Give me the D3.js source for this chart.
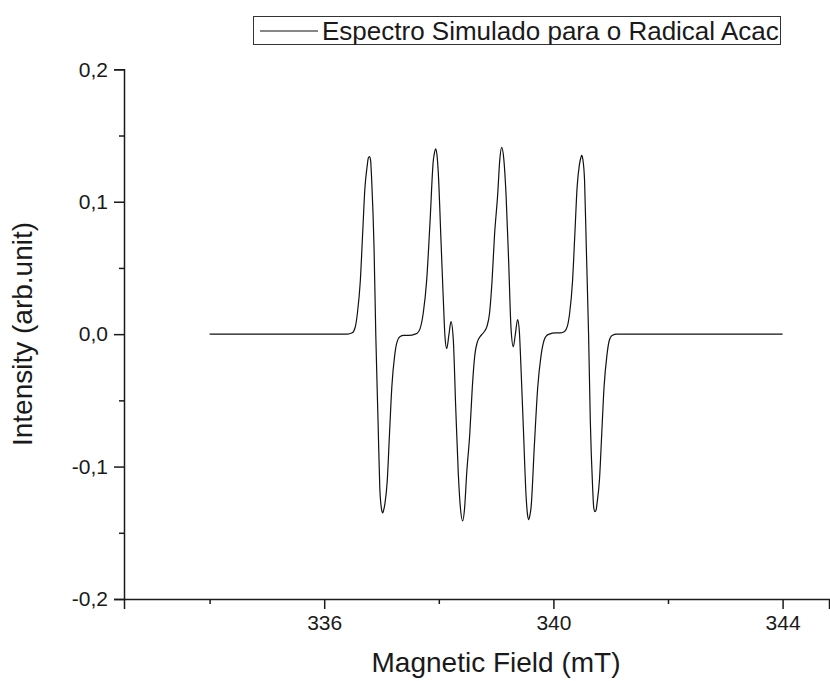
<!DOCTYPE html>
<html>
<head>
<meta charset="utf-8">
<script src="https://cdn.jsdelivr.net/npm/d3@7"></script>
<style>
  html, body { margin: 0; padding: 0; background: #fff; }
  svg { display: block; }
  text { font-family: "Liberation Sans", Arial, sans-serif; fill: #1a1a1a; }
</style>
</head>
<body>
<svg id="chart" width="830" height="681"></svg>
<script>
// ---- data ----
const fieldMT = [
  334.00, 334.50, 335.00, 335.50, 336.00, 336.40,
  336.49, 336.54, 336.58, 336.63, 336.67, 336.71, 336.75, 336.77, 336.79, 336.81, 336.83, 336.87, 336.90,
  336.94, 336.97, 337.00, 337.02, 337.03, 337.06, 337.10, 337.14, 337.18, 337.23, 337.27, 337.32, 337.39, 337.48,
  337.585, 337.63, 337.672, 337.729, 337.789, 337.846, 337.904, 337.925, 337.946, 337.969, 337.991, 338.038,
  338.079, 338.108, 338.138, 338.178, 338.213, 338.253, 338.295, 338.340, 338.379, 338.417, 338.449, 338.487,
  338.541, 338.585, 338.628, 338.672, 338.719, 338.757,
  338.795, 338.842, 338.886, 338.929, 338.973, 339.027, 339.065, 339.097, 339.135, 339.174, 339.219, 339.261,
  339.301, 339.336, 339.376, 339.406, 339.435, 339.476, 339.523, 339.545, 339.568, 339.589, 339.610, 339.668,
  339.725, 339.785, 339.842, 339.884, 339.929,
  340.034, 340.124, 340.194, 340.244, 340.284, 340.334, 340.374, 340.414, 340.454, 340.484, 340.494, 340.514,
  340.544, 340.574, 340.614, 340.644, 340.684, 340.704, 340.724, 340.744, 340.764, 340.804, 340.844, 340.884,
  340.934, 340.974, 341.024, 341.11, 341.50, 342.00, 342.50, 343.00, 343.50, 344.00
];
const intensity = [
  0, 0, 0, 0, 0, 0,
  0.001, 0.005, 0.016, 0.040, 0.075, 0.110, 0.127, 0.133, 0.134, 0.131, 0.115, 0.065, 0.000,
  -0.066, -0.116, -0.132, -0.135, -0.134, -0.128, -0.111, -0.075, -0.040, -0.016, -0.006, -0.002, -0.001, -0.001,
  0.000, 0.001, 0.004, 0.016, 0.041, 0.084, 0.131, 0.137, 0.140, 0.135, 0.122, 0.071,
  0.026, -0.002, -0.011, 0.000, 0.0095, -0.004, -0.055, -0.105, -0.132, -0.141, -0.132, -0.105,
  -0.075, -0.040, -0.016, -0.006, -0.002, 0.000,
  0.002, 0.006, 0.016, 0.040, 0.075, 0.105, 0.132, 0.141, 0.132, 0.105, 0.055, 0.004,
  -0.0095, 0.000, 0.011, 0.002, -0.026, -0.071, -0.122, -0.135, -0.140, -0.137, -0.131, -0.084,
  -0.041, -0.016, -0.004, -0.001, 0.000,
  0.001, 0.001, 0.002, 0.006, 0.016, 0.040, 0.075, 0.111, 0.128, 0.134, 0.135, 0.132,
  0.116, 0.066, 0.000, -0.065, -0.115, -0.131, -0.134, -0.133, -0.127, -0.110, -0.075, -0.040,
  -0.016, -0.005, -0.001, 0, 0, 0, 0, 0, 0, 0
];
const xMajorTicks = [336, 340, 344];
const xMinorTicks = [334, 338, 342];
const yMajorTicks = [-0.2, -0.1, 0.0, 0.1, 0.2];
const yMinorTicks = [-0.15, -0.05, 0.05, 0.15];
const xTitle = "Magnetic Field (mT)";
const yTitle = "Intensity (arb.unit)";
const seriesName = "Espectro Simulado para o Radical Acac";

// ---- layout ----
const svg = d3.select("#chart");
const plotLeft = 124, plotRight = 829, plotTop = 69.3, plotBottom = 599;
const x = d3.scaleLinear().domain([332.506, 344.81]).range([plotLeft, plotRight]);
const y = d3.scaleLinear().domain([-0.2, 0.2]).range([plotBottom, plotTop]);
const loc = d3.formatLocale({ decimal: ",", thousands: ".", grouping: [3], currency: ["", ""], minus: "-" });
const comma = loc.format(".1f");

// x axis
const gx = svg.append("g").attr("transform", `translate(0,${plotBottom})`);
gx.call(d3.axisBottom(x).tickValues(xMajorTicks).tickSize(10).tickPadding(6).tickFormat(d3.format("d")));
gx.append("g").call(d3.axisBottom(x).tickValues(xMinorTicks).tickSize(5).tickFormat(""))
  .select(".domain").remove();
gx.selectAll("path.domain").attr("stroke", "#1a1a1a").attr("stroke-width", 1.5);
gx.selectAll(".tick line").attr("stroke", "#1a1a1a").attr("stroke-width", 1.5);
gx.selectAll(".tick text").attr("font-size", 21).attr("font-family", "Liberation Sans, Arial, sans-serif").attr("fill", "#1a1a1a");

// y axis
const gy = svg.append("g").attr("transform", `translate(${plotLeft},0)`);
gy.call(d3.axisLeft(y).tickValues(yMajorTicks).tickSize(10).tickPadding(6).tickFormat(comma));
gy.append("g").call(d3.axisLeft(y).tickValues(yMinorTicks).tickSize(5).tickFormat(""))
  .select(".domain").remove();
gy.selectAll("path.domain").attr("stroke", "#1a1a1a").attr("stroke-width", 1.5);
gy.selectAll(".tick line").attr("stroke", "#1a1a1a").attr("stroke-width", 1.5);
gy.selectAll(".tick text").attr("font-size", 21).attr("font-family", "Liberation Sans, Arial, sans-serif").attr("fill", "#1a1a1a");

// spectrum
const pts = fieldMT.map((f, i) => [f, intensity[i]]);
svg.append("path")
  .datum(pts)
  .attr("fill", "none")
  .attr("stroke", "#111")
  .attr("stroke-width", 1.2)
  .attr("d", d3.line().x(d => x(d[0])).y(d => y(d[1])).curve(d3.curveMonotoneX));

// titles
svg.append("text").attr("x", 496).attr("y", 672).attr("text-anchor", "middle")
  .attr("font-size", 28).text(xTitle);
svg.append("text").attr("transform", "translate(32,334) rotate(-90)").attr("text-anchor", "middle")
  .attr("font-size", 28).text(yTitle);

// legend
const lg = svg.append("g");
lg.append("rect").attr("x", 253.5).attr("y", 16.5).attr("width", 527).attr("height", 28)
  .attr("fill", "#fff").attr("stroke", "#333").attr("stroke-width", 1);
lg.append("line").attr("x1", 260).attr("x2", 318).attr("y1", 31).attr("y2", 31)
  .attr("stroke", "#111").attr("stroke-width", 1.2);
lg.append("text").attr("x", 322).attr("y", 40).attr("font-size", 26).text(seriesName);
</script>
</body>
</html>
